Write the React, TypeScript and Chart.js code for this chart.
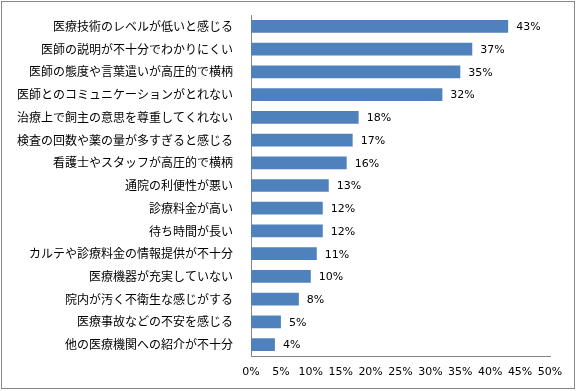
import React, { useEffect, useRef } from "react";
import { Chart, registerables } from "chart.js";

Chart.register(...registerables);

const categories = [
  "医療技術のレベルが低いと感じる",
  "医師の説明が不十分でわかりにくい",
  "医師の態度や言葉遣いが高圧的で横柄",
  "医師とのコミュニケーションがとれない",
  "治療上で飼主の意思を尊重してくれない",
  "検査の回数や薬の量が多すぎると感じる",
  "看護士やスタッフが高圧的で横柄",
  "通院の利便性が悪い",
  "診療料金が高い",
  "待ち時間が長い",
  "カルテや診療料金の情報提供が不十分",
  "医療機器が充実していない",
  "院内が汚く不衛生な感じがする",
  "医療事故などの不安を感じる",
  "他の医療機関への紹介が不十分",
];
const values = [43, 37, 35, 32, 18, 17, 16, 13, 12, 12, 11, 10, 8, 5, 4];
const xTicks = [0, 5, 10, 15, 20, 25, 30, 35, 40, 45, 50];

const labelPlugin = {
  id: "barLabels",
  afterDatasetsDraw(chart: any) {
    const ctx = chart.ctx;
    const meta = chart.getDatasetMeta(0);
    ctx.save();
    ctx.font = "11px 'DejaVu Sans'";
    ctx.fillStyle = "#000";
    ctx.textAlign = "left";
    ctx.textBaseline = "middle";
    meta.data.forEach((el: any, i: number) => {
      ctx.fillText(values[i] + "%", el.x + 8, el.y + 1);
    });
    ctx.restore();
  },
};

const borderPlugin = {
  id: "outerBorder",
  afterDraw(chart: any) {
    const ctx = chart.ctx;
    ctx.save();
    ctx.strokeStyle = "#868686";
    ctx.lineWidth = 1;
    ctx.strokeRect(1.5, 1.5, chart.width - 4, chart.height - 4);
    ctx.restore();
  },
};

export default function App() {
  const ref = useRef<HTMLCanvasElement>(null);
  useEffect(() => {
    document.body.style.margin = "0";
    const chart = new Chart(ref.current!, {
      type: "bar",
      data: {
        labels: categories,
        datasets: [
          {
            data: values,
            backgroundColor: "#4F81BD",
            barPercentage: 0.56,
            categoryPercentage: 1,
          },
        ],
      },
      plugins: [labelPlugin, borderPlugin],
      options: {
        indexAxis: "y",
        animation: false,
        responsive: false,
        devicePixelRatio: 1,
        layout: { padding: { top: 15, right: 27, bottom: 10, left: 0 } },
        plugins: { legend: { display: false }, tooltip: { enabled: false } },
        scales: {
          x: {
            min: 0,
            max: 50,
            afterFit(scale: any) {
              scale.height = 25;
              scale.paddingLeft = 0;
              scale.paddingRight = 0;
            },
            afterBuildTicks(scale: any) {
              scale.ticks = xTicks.map((v) => ({ value: v }));
            },
            grid: { display: false, drawTicks: false },
            border: { display: true, color: "#868686" },
            ticks: {
              padding: 10,
              color: "#000",
              font: { family: "'DejaVu Sans'", size: 11 },
              callback: (v: any) => v + "%",
              autoSkip: false,
              maxRotation: 0,
            },
          },
          y: {
            afterFit(scale: any) {
              scale.width = 251;
              scale.paddingTop = 0;
              scale.paddingBottom = 0;
            },
            grid: { display: false, drawTicks: false },
            border: { display: true, color: "#868686" },
            ticks: {
              padding: 18,
              color: "#000",
              font: { family: "'Noto Sans CJK JP'", size: 12 },
              autoSkip: false,
            },
          },
        },
      },
    });
    return () => chart.destroy();
  }, []);
  return (
    <div style={{ width: 577, height: 391, background: "#fff" }}>
      <canvas ref={ref} width={577} height={391} style={{ display: "block" }} />
    </div>
  );
}
